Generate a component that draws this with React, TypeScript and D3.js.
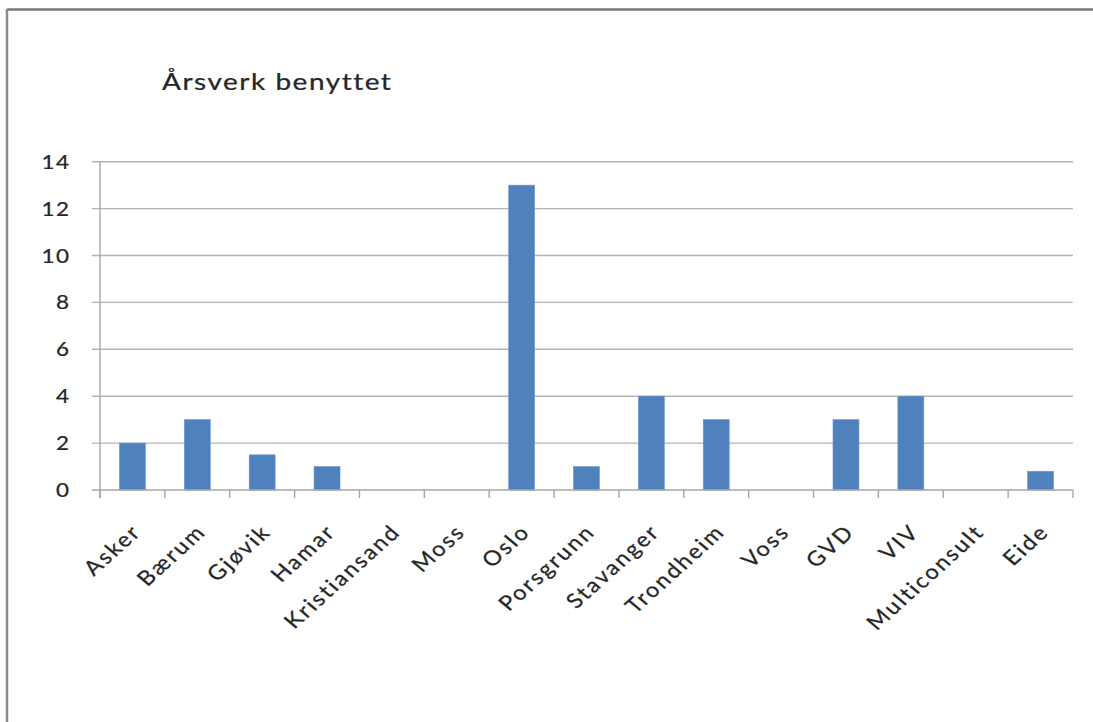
import React from "react";
import * as d3 from "d3";

const categories = ["Asker", "Bærum", "Gjøvik", "Hamar", "Kristiansand", "Moss", "Oslo", "Porsgrunn", "Stavanger", "Trondheim", "Voss", "GVD", "VIV", "Multiconsult", "Eide"];
const values = [2, 3, 1.5, 1, 0, 0, 13, 1, 4, 3, 0, 3, 4, 0, 0.8];
const yTicks = [0, 2, 4, 6, 8, 10, 12, 14];
const title = "Årsverk benyttet";

const W = 1093;
const H = 722;
const left = 100;
const right = 1073;
const top = 161.7;
const bottom = 490;
const SX = 1.15;
const FONT = "Lato, 'Open Sans', sans-serif";
const TEXT = "#262626";

export default function App() {
  const x = d3.scaleBand<string>().domain(categories).range([left, right]).paddingInner(0.6).paddingOuter(0.3);
  const y = d3.scaleLinear().domain([0, 14]).range([bottom, top]);
  const step = x.step();
  const edges = d3.range(categories.length + 1).map((i) => left + i * step);
  const textStyle = { fontFamily: FONT, fill: TEXT, stroke: TEXT, strokeWidth: 0.25 } as React.CSSProperties;

  return (
    <svg width={W} height={H} style={{ position: "absolute", left: 0, top: 0, display: "block", background: "#fff" }}>
      <rect x={0} y={0} width={W} height={H} fill="#fff" />
      {/* frame */}
      <line x1={7} y1={9.5} x2={W} y2={9.5} stroke="#7a7a7a" strokeWidth={2.5} />
      <line x1={7} y1={9} x2={7} y2={H} stroke="#8a8a8a" strokeWidth={2.5} />
      {/* title */}
      <text transform={`translate(162,90) scale(1.18,1)`} style={{ ...textStyle, letterSpacing: "1.3px" }} fontSize={23.7}>
        {title}
      </text>
      {/* gridlines */}
      {yTicks.filter((t) => t > 0).map((t) => (
        <line key={t} x1={left - 8} x2={right} y1={y(t)} y2={y(t)} stroke="#b3b3b3" strokeWidth={1.4} />
      ))}
      {/* y tick labels */}
      {yTicks.map((t) => (
        <text key={t} transform={`translate(${69 + 1.2 * SX},${y(t)}) scale(${SX},1)`} dy="0.36em" textAnchor="end" style={{ ...textStyle, letterSpacing: "1.2px" }} fontSize={19.5}>
          {t}
        </text>
      ))}
      {/* bars */}
      {categories.map((c, i) => (
        <rect key={c} x={x(c)} y={y(values[i])} width={x.bandwidth()} height={bottom - y(values[i])} fill="#4F81BD" stroke="#6a96cc" strokeWidth={0.6} />
      ))}
      {/* axes */}
      <line x1={left} x2={left} y1={top} y2={bottom + 8} stroke="#a6a6a6" strokeWidth={1.4} />
      <line x1={left - 8} x2={right} y1={bottom} y2={bottom} stroke="#a6a6a6" strokeWidth={1.4} />
      {edges.map((e, i) => (
        <line key={i} x1={e} x2={e} y1={bottom} y2={bottom + 8} stroke="#a6a6a6" strokeWidth={1.4} />
      ))}
      {/* x labels */}
      {categories.map((c) => {
        const cx = (x(c) as number) + x.bandwidth() / 2;
        return (
          <text key={c} transform={`translate(${cx + 10},533) scale(${SX},1) rotate(-46)`} textAnchor="end" style={{ ...textStyle, letterSpacing: "2px" }} fontSize={20.5}>
            {c}
          </text>
        );
      })}
    </svg>
  );
}
